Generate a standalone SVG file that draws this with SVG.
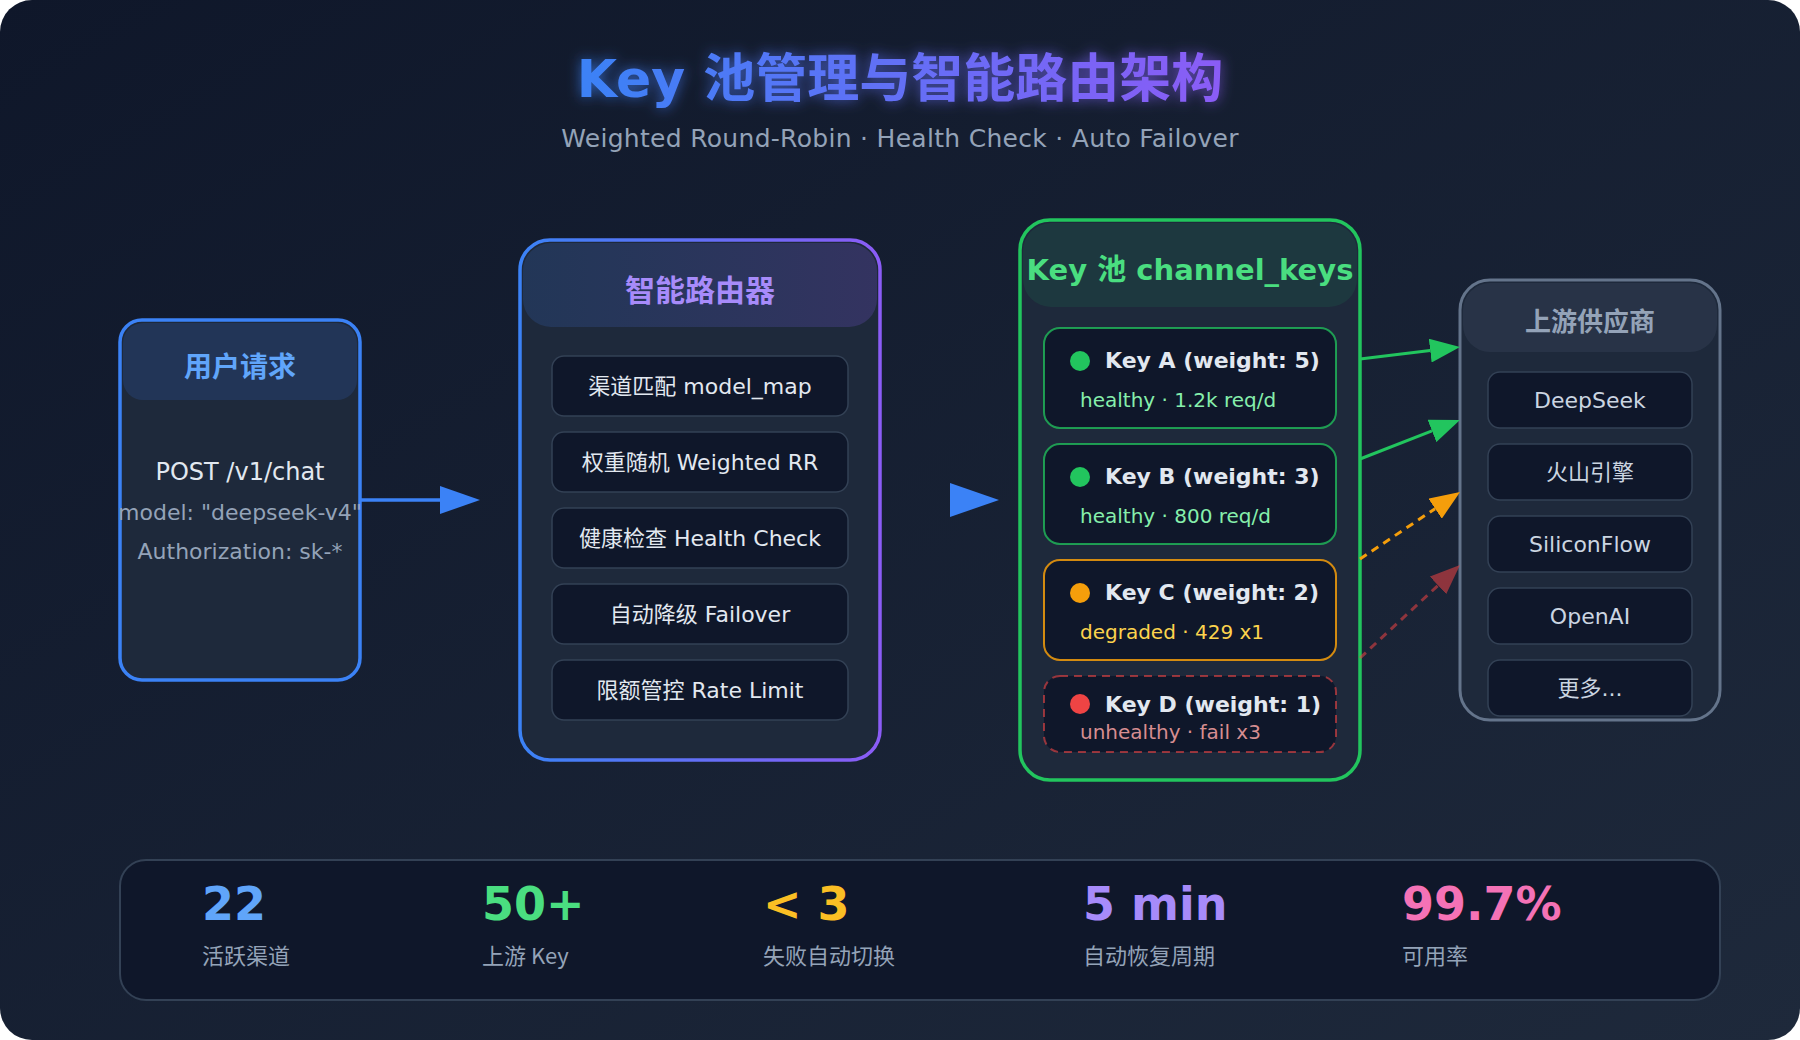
<svg xmlns="http://www.w3.org/2000/svg" width="1800" height="1040" viewBox="0 0 1800 1040">
  <defs>
    <linearGradient id="bg" x1="0" y1="0" x2="1" y2="1">
      <stop offset="0" stop-color="#0f172a"/>
      <stop offset="1" stop-color="#1e293b"/>
    </linearGradient>
    <linearGradient id="titleGrad" x1="0" y1="0" x2="1" y2="0">
      <stop offset="0" stop-color="#3b82f6"/>
      <stop offset="1" stop-color="#8b5cf6"/>
    </linearGradient>
    <linearGradient id="routerStroke" x1="0" y1="0" x2="1" y2="0">
      <stop offset="0" stop-color="#3b82f6"/>
      <stop offset="1" stop-color="#8b5cf6"/>
    </linearGradient>
    <linearGradient id="routerHead" x1="0" y1="0" x2="1" y2="0">
      <stop offset="0" stop-color="#3b82f6" stop-opacity="0.15"/>
      <stop offset="1" stop-color="#8b5cf6" stop-opacity="0.2"/>
    </linearGradient>
    <filter id="glow" x="-10%" y="-40%" width="120%" height="180%">
      <feGaussianBlur in="SourceGraphic" stdDeviation="7" result="b"/>
      <feComponentTransfer in="b" result="b2"><feFuncA type="linear" slope="0.7"/></feComponentTransfer>
      <feMerge><feMergeNode in="b2"/><feMergeNode in="SourceGraphic"/></feMerge>
    </filter>
    <marker id="arrBlueL" markerUnits="userSpaceOnUse" markerWidth="40" markerHeight="28" refX="0" refY="14" orient="auto">
      <path d="M0,0 L40,14 L0,28 z" fill="#3b82f6"/>
    </marker>
    <marker id="arrGreen" markerUnits="userSpaceOnUse" markerWidth="30" markerHeight="24" refX="0" refY="12" orient="auto">
      <path d="M0,0 L30,12 L0,24 z" fill="#22c55e"/>
    </marker>
    <marker id="arrAmber" markerUnits="userSpaceOnUse" markerWidth="30" markerHeight="24" refX="0" refY="12" orient="auto">
      <path d="M0,0 L30,12 L0,24 z" fill="#f59e0b"/>
    </marker>
    <marker id="arrRed" markerUnits="userSpaceOnUse" markerWidth="30" markerHeight="24" refX="0" refY="12" orient="auto">
      <path d="M0,0 L30,12 L0,24 z" fill="#ef4444" fill-opacity="0.55"/>
    </marker>
    <style>
      text { font-family: "DejaVu Sans", "Noto Sans CJK SC", sans-serif; }
      .head { font-weight: bold; text-anchor: middle; }
      .item { fill: #0f172a; stroke: #334155; stroke-width: 1.5; }
      .itemTxt { font-size: 22px; fill: #e2e8f0; text-anchor: middle; }
      .provTxt { font-size: 22px; fill: #cbd5e1; text-anchor: middle; }
      .card { fill: #0f172a; stroke-width: 2; }
      .keyTitle { font-size: 22px; font-weight: bold; fill: #e2e8f0; }
      .keySub { font-size: 20px; }
      .statNum { font-size: 46px; font-weight: bold; }
      .statLbl { font-size: 22px; fill: #94a3b8; font-family: "Noto Sans CJK SC", "DejaVu Sans", sans-serif; }
    </style>
  </defs>

  <rect x="0" y="0" width="1800" height="1040" rx="32" fill="url(#bg)"/>

  <g id="title">
    <text x="900" y="97" text-anchor="middle" font-size="52" font-weight="bold" fill="url(#titleGrad)" filter="url(#glow)">Key 池管理与智能路由架构</text>
    <text x="900" y="147" text-anchor="middle" font-size="25" letter-spacing="0.3" fill="#94a3b8">Weighted Round-Robin · Health Check · Auto Failover</text>
  </g>

  <g id="user-request">
    <rect x="120" y="320" width="240" height="360" rx="22" fill="#1e293b" stroke="#3b82f6" stroke-width="3.5"/>
    <rect x="123" y="323" width="234" height="77" rx="20" fill="#3b82f6" fill-opacity="0.15"/>
    <text class="head" x="240" y="377" font-size="28" fill="#60a5fa">用户请求</text>
    <text x="240" y="480" text-anchor="middle" font-size="24" fill="#e2e8f0">POST /v1/chat</text>
    <text x="240" y="520" text-anchor="middle" font-size="22" fill="#94a3b8">model: "deepseek-v4"</text>
    <text x="240" y="559" text-anchor="middle" font-size="22" fill="#94a3b8">Authorization: sk-*</text>
  </g>

  <g id="router">
    <rect x="520" y="240" width="360" height="520" rx="30" fill="#1e293b" stroke="url(#routerStroke)" stroke-width="3.5"/>
    <rect x="523" y="243" width="354" height="84" rx="28" fill="url(#routerHead)"/>
    <text class="head" x="700" y="301" font-size="30" fill="#a78bfa">智能路由器</text>
    <rect class="item" x="552" y="356" width="296" height="60" rx="12"/>
    <text class="itemTxt" x="700" y="394">渠道匹配 model_map</text>
    <rect class="item" x="552" y="432" width="296" height="60" rx="12"/>
    <text class="itemTxt" x="700" y="470">权重随机 Weighted RR</text>
    <rect class="item" x="552" y="508" width="296" height="60" rx="12"/>
    <text class="itemTxt" x="700" y="546">健康检查 Health Check</text>
    <rect class="item" x="552" y="584" width="296" height="60" rx="12"/>
    <text class="itemTxt" x="700" y="622">自动降级 Failover</text>
    <rect class="item" x="552" y="660" width="296" height="60" rx="12"/>
    <text class="itemTxt" x="700" y="698">限额管控 Rate Limit</text>
  </g>

  <g id="key-pool">
    <rect x="1020" y="220" width="340" height="560" rx="30" fill="#1e293b" stroke="#22c55e" stroke-width="3.5"/>
    <rect x="1023" y="223" width="334" height="84" rx="28" fill="#22c55e" fill-opacity="0.1"/>
    <text class="head" x="1190" y="280" font-size="29" fill="#4ade80">Key 池 channel_keys</text>

    <g id="key-a">
      <rect class="card" x="1044" y="328" width="292" height="100" rx="16" stroke="#22c55e" stroke-opacity="0.75"/>
      <circle cx="1080" cy="361" r="10" fill="#22c55e"/>
      <text class="keyTitle" x="1105" y="368">Key A (weight: 5)</text>
      <text class="keySub" x="1080" y="407" fill="#86efac">healthy · 1.2k req/d</text>
    </g>
    <g id="key-b">
      <rect class="card" x="1044" y="444" width="292" height="100" rx="16" stroke="#22c55e" stroke-opacity="0.75"/>
      <circle cx="1080" cy="477" r="10" fill="#22c55e"/>
      <text class="keyTitle" x="1105" y="484">Key B (weight: 3)</text>
      <text class="keySub" x="1080" y="523" fill="#86efac">healthy · 800 req/d</text>
    </g>
    <g id="key-c">
      <rect class="card" x="1044" y="560" width="292" height="100" rx="16" stroke="#f59e0b" stroke-opacity="0.85"/>
      <circle cx="1080" cy="593" r="10" fill="#f59e0b"/>
      <text class="keyTitle" x="1105" y="600">Key C (weight: 2)</text>
      <text class="keySub" x="1080" y="639" fill="#fcd34d">degraded · 429 x1</text>
    </g>
    <g id="key-d">
      <rect class="card" x="1044" y="676" width="292" height="76" rx="16" stroke="#ef4444" stroke-opacity="0.6" stroke-dasharray="8,6"/>
      <circle cx="1080" cy="704" r="10" fill="#ef4444"/>
      <text class="keyTitle" x="1105" y="712">Key D (weight: 1)</text>
      <text class="keySub" x="1080" y="739" fill="#fca5a5" fill-opacity="0.85">unhealthy · fail x3</text>
    </g>
  </g>

  <g id="upstream">
    <rect x="1460" y="280" width="260" height="440" rx="30" fill="#1e293b" stroke="#64748b" stroke-width="3"/>
    <rect x="1463" y="283" width="254" height="69" rx="27" fill="#64748b" fill-opacity="0.15"/>
    <text class="head" x="1590" y="331" font-size="26" fill="#94a3b8">上游供应商</text>
    <rect class="item" x="1488" y="372" width="204" height="56" rx="12"/>
    <text class="provTxt" x="1590" y="408">DeepSeek</text>
    <rect class="item" x="1488" y="444" width="204" height="56" rx="12"/>
    <text class="provTxt" x="1590" y="480">火山引擎</text>
    <rect class="item" x="1488" y="516" width="204" height="56" rx="12"/>
    <text class="provTxt" x="1590" y="552">SiliconFlow</text>
    <rect class="item" x="1488" y="588" width="204" height="56" rx="12"/>
    <text class="provTxt" x="1590" y="624">OpenAI</text>
    <rect class="item" x="1488" y="660" width="204" height="56" rx="12"/>
    <text class="provTxt" x="1590" y="696">更多...</text>
  </g>

  <g id="connectors">
    <line x1="360" y1="500" x2="440" y2="500" stroke="#3b82f6" stroke-width="3.5" marker-end="url(#arrBlueL)"/>
    <polygon points="950,483 999,500 950,517" fill="#3b82f6"/>
    <line x1="1360" y1="359" x2="1430.2" y2="350.6" stroke="#22c55e" stroke-width="3" marker-end="url(#arrGreen)"/>
    <line x1="1360" y1="459" x2="1432" y2="430.9" stroke="#22c55e" stroke-width="3" marker-end="url(#arrGreen)"/>
    <line x1="1360" y1="559" x2="1435.1" y2="508.7" stroke="#f59e0b" stroke-width="3" stroke-dasharray="8,6" marker-end="url(#arrAmber)"/>
    <line x1="1360" y1="658" x2="1438" y2="585.4" stroke="#ef4444" stroke-opacity="0.55" stroke-width="3" stroke-dasharray="8,6" marker-end="url(#arrRed)"/>
  </g>

  <g id="stats">
    <rect x="120" y="860" width="1600" height="140" rx="26" fill="#0f172a" stroke="#334155" stroke-width="2"/>
    <text class="statNum" x="202" y="920" fill="#60a5fa">22</text>
    <text class="statLbl" x="202" y="964">活跃渠道</text>
    <text class="statNum" x="482" y="920" fill="#4ade80">50+</text>
    <text class="statLbl" x="482" y="964">上游 Key</text>
    <text class="statNum" x="763" y="920" fill="#fbbf24">&lt; 3</text>
    <text class="statLbl" x="763" y="964">失败自动切换</text>
    <text class="statNum" x="1083" y="920" fill="#a78bfa">5 min</text>
    <text class="statLbl" x="1083" y="964">自动恢复周期</text>
    <text class="statNum" x="1402" y="920" fill="#f472b6">99.7%</text>
    <text class="statLbl" x="1402" y="964">可用率</text>
  </g>
</svg>
